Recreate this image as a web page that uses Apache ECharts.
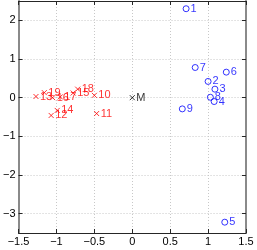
<!DOCTYPE html>
<html><head><meta charset="utf-8">
<script src="https://cdn.jsdelivr.net/npm/echarts@6/dist/echarts.min.js"></script>
<style>html,body{margin:0;padding:0;background:#fff}#c{width:257px;height:250px}</style>
</head><body><div id="c"></div>
<script>
const blueNames = ['1','2','3','4','5','6','7','8','9'];
const blueX = [0.71, 1.00, 1.09, 1.08, 1.22, 1.24, 0.83, 1.03, 0.66];
const blueY = [2.30, 0.42, 0.22, -0.10, -3.22, 0.66, 0.78, 0.01, -0.29];
const redNames = ['10','11','12','13','14','15','16','17','18','19'];
const redX = [-0.50, -0.47, -1.07, -1.27, -0.99, -0.78, -1.05, -0.95, -0.72, -1.16];
const redY = [0.06, -0.41, -0.46, 0.03, -0.33, 0.12, 0.00, 0.02, 0.22, 0.13];
const mNames = ['M'];
const mX = [0.0];
const mY = [0.0];
const xTicks = [-1.5, -1, -0.5, 0, 0.5, 1, 1.5];
const yTicks = [-3, -2, -1, 0, 1, 2];

const font = 'Liberation Sans, Arial, sans-serif';
const fmt = v => String(v).replace('-', '\u2212');
const cross = 'path://M0,0L10,10M10,0L0,10';
function pts(xs, ys, ns){ return xs.map((x,i)=>({value:[x, ys[i]], name: ns[i]})); }
const xLine = {show:true, onZero:false, lineStyle:{color:'#262626', width:1}};
const yLine = {show:true, onZero:false, lineStyle:{color:'#8a8a8a', width:2}};
const split = {show:true, lineStyle:{color:'#c8c8c8', type:[1,2], width:1}};
const tick = {show:true, inside:true, length:4, lineStyle:{color:'#262626'}};
function mk(data, color, symbol, size){
  return {type:'scatter', data, symbol, symbolSize:size,
    itemStyle:{color:'rgba(0,0,0,0)', borderColor:color, borderWidth:1},
    label:{show:true, position:'right', distance:1, formatter:p=>p.name, color, fontSize:11, fontFamily:font},
    emphasis:{disabled:true}, silent:true, animation:false};
}
const chart = echarts.init(document.getElementById('c'), null, {renderer:'canvas'});
chart.setOption({
  animation:false,
  grid:{left:15, right:11, top:1, bottom:17, show:false},
  xAxis:[
    {type:'value', min:-1.5, max:1.5, interval:0.5, axisLine:xLine, splitLine:split,
     axisTick:Object.assign({customValues:xTicks}, tick),
     axisLabel:{formatter:fmt, color:'#000', fontSize:11, fontFamily:font, margin:3, customValues:xTicks}},
    {type:'value', position:'top', min:-1.5, max:1.5, interval:0.5, axisLine:xLine, splitLine:{show:false},
     axisTick:Object.assign({customValues:xTicks}, tick), axisLabel:{show:false}}
  ],
  yAxis:[
    {type:'value', min:-3.5, max:2.5, axisLine:yLine, splitLine:split,
     axisTick:Object.assign({customValues:yTicks}, tick),
     axisLabel:{formatter:fmt, color:'#000', fontSize:11, fontFamily:font, margin:3, customValues:yTicks}},
    {type:'value', position:'right', min:-3.5, max:2.5, axisLine:yLine, splitLine:{show:false},
     axisTick:Object.assign({customValues:yTicks}, tick), axisLabel:{show:false}}
  ],
  series:[
    mk(pts(blueX, blueY, blueNames), '#0000ff', 'circle', 6),
    mk(pts(redX, redY, redNames), '#ff0000', cross, 5),
    mk(pts(mX, mY, mNames), '#000000', cross, 5)
  ]
});
</script></body></html>
